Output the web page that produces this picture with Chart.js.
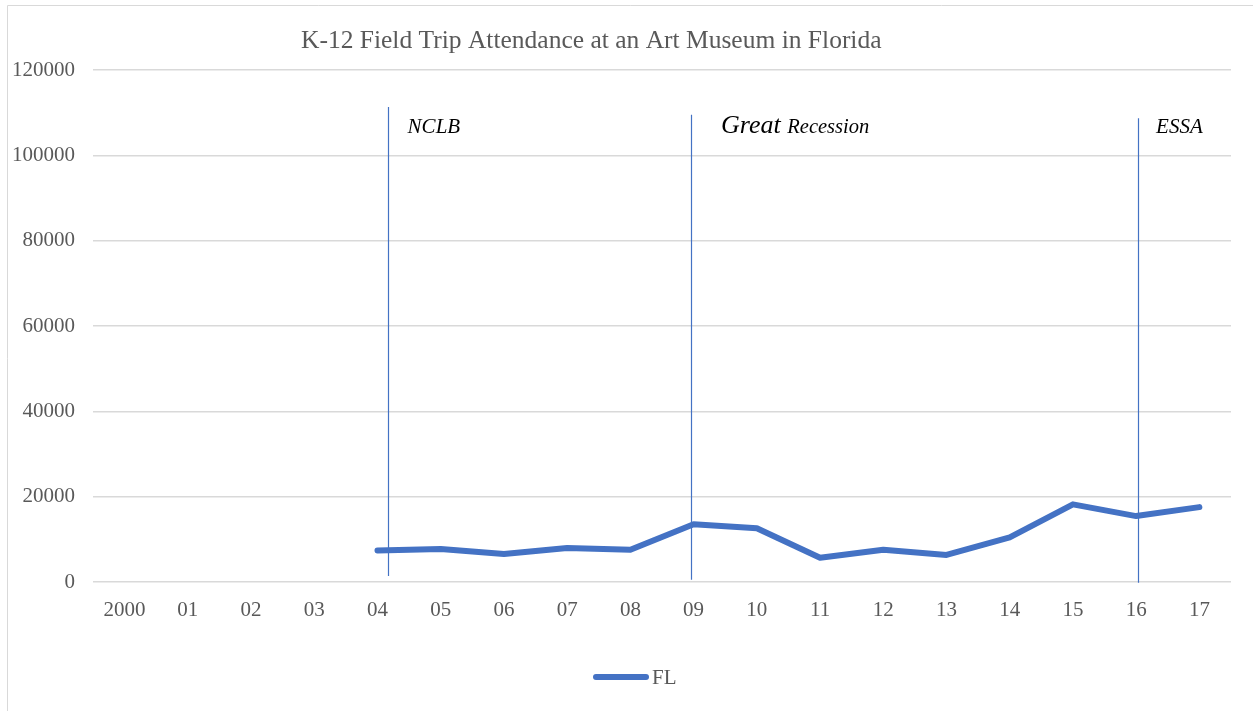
<!DOCTYPE html>
<html>
<head>
<meta charset="utf-8">
<title>K-12 Field Trip Attendance</title>
<script src="https://cdn.jsdelivr.net/npm/chart.js@4.4.0/dist/chart.umd.min.js"></script>
<style>
    html, body { margin: 0; padding: 0; background: #ffffff; }
    #wrap { position: relative; width: 1253px; height: 711px; }
</style>
</head>
<body>
<div id="wrap"><canvas id="chart"></canvas></div>
<script>
// Chart data
const years = ["2000", "01", "02", "03", "04", "05", "06", "07", "08",
               "09", "10", "11", "12", "13", "14", "15", "16", "17"];
const attendanceFL = [null, null, null, null, 7400, 7750, 6550, 7950, 7550,
                      13550, 12600, 5700, 7550, 6350, 10450, 18200, 15450, 17550];
const yTicks = [0, 20000, 40000, 60000, 80000, 100000, 120000];

// Policy events: name, category position, vertical extent of the marker line
const eventNames = ["NCLB", "Great Recession", "ESSA"];
const eventAt = [4.16, 8.96, 16.03];
const eventTop = [111300, 109500, 108700];
const eventBottom = [1400, 500, -200];

const SERIF = "'Liberation Serif', 'Times New Roman', serif";
const GREY = "#595959";
const BLUE = "#4472C4";

// frame around the chart, the off-centre title and the legend
const framePlugin = {
    id: "frame",
    beforeDraw(chart) {
        const ctx = chart.ctx;
        ctx.save();
        ctx.strokeStyle = "#d9d9d9";
        ctx.lineWidth = 1;
        ctx.beginPath();
        ctx.moveTo(7.5, chart.height);
        ctx.lineTo(7.5, 5.5);
        ctx.lineTo(chart.width, 5.5);
        ctx.stroke();
        ctx.fillStyle = GREY;
        ctx.font = "25.5px " + SERIF;
        ctx.textBaseline = "alphabetic";
        ctx.textAlign = "left";
        ctx.fillText("K-12 Field Trip Attendance at an Art Museum in Florida", 301, 48);
        ctx.restore();
    },
    afterDraw(chart) {
        const ctx = chart.ctx;
        const ds = chart.data.datasets[0];
        ctx.save();
        ctx.strokeStyle = ds.borderColor;
        ctx.lineWidth = 6;
        ctx.lineCap = "round";
        ctx.beginPath();
        ctx.moveTo(596, 677);
        ctx.lineTo(646, 677);
        ctx.stroke();
        ctx.fillStyle = GREY;
        ctx.font = "21px " + SERIF;
        ctx.textBaseline = "middle";
        ctx.fillText(ds.label, 652, 678);
        ctx.restore();
    },
};

// vertical marker lines with italic labels
const eventPlugin = {
    id: "events",
    afterDatasetsDraw(chart) {
        const ctx = chart.ctx;
        const x = chart.scales.x;
        const y = chart.scales.y;
        ctx.save();
        ctx.strokeStyle = BLUE;
        ctx.lineWidth = 1.2;
        eventNames.forEach((name, i) => {
            const px = Math.round(x.getPixelForValue(eventAt[i])) + 0.5;
            ctx.beginPath();
            ctx.moveTo(px, y.getPixelForValue(eventTop[i]));
            ctx.lineTo(px, y.getPixelForValue(eventBottom[i]));
            ctx.stroke();
        });
        ctx.fillStyle = "#000000";
        ctx.textBaseline = "alphabetic";
        ctx.textAlign = "left";
        const base = 133;
        const p0 = x.getPixelForValue(eventAt[0]);
        ctx.font = "italic 21px " + SERIF;
        ctx.fillText(eventNames[0], p0 + 20, base);

        const p1 = x.getPixelForValue(eventAt[1]);
        const parts = eventNames[1].split(" ");
        ctx.font = "italic 26px " + SERIF;
        ctx.fillText(parts[0], p1 + 30, base);
        const w = ctx.measureText(parts[0] + " ").width;
        ctx.font = "italic 20.5px " + SERIF;
        ctx.fillText(parts[1], p1 + 30 + w, base);

        const p2 = x.getPixelForValue(eventAt[2]);
        ctx.font = "italic 21px " + SERIF;
        ctx.fillText(eventNames[2], p2 + 18, base);
        ctx.restore();
    },
};

new Chart(document.getElementById("chart"), {
    type: "line",
    data: {
        labels: years,
        datasets: [{
            label: "FL",
            data: attendanceFL,
            borderColor: BLUE,
            backgroundColor: BLUE,
            borderWidth: 6,
            borderCapStyle: "round",
            borderJoinStyle: "round",
            pointRadius: 0,
            pointHoverRadius: 0,
            tension: 0,
            spanGaps: false,
        }],
    },
    options: {
        responsive: true,
        maintainAspectRatio: false,
        animation: false,
        layout: { padding: { top: 70, right: 22, left: 0, bottom: 0 } },
        plugins: {
            title: { display: false },
            tooltip: { enabled: false },
            legend: { display: false },
        },
        scales: {
            x: {
                offset: true,
                grid: { display: false },
                border: { display: false },
                ticks: {
                    color: GREY,
                    font: { family: SERIF, size: 21 },
                    padding: 8,
                    maxRotation: 0,
                    autoSkip: false,
                },
                afterFit(scale) { scale.height = 129; },
            },
            y: {
                min: 0,
                max: 120000,
                afterBuildTicks(scale) { scale.ticks = yTicks.map((v) => ({ value: v })); },
                grid: { color: "#d9d9d9", lineWidth: 1.5, drawTicks: false },
                border: { display: false },
                ticks: {
                    color: GREY,
                    font: { family: SERIF, size: 21 },
                    padding: 18,
                    callback: (v) => String(v),
                },
                afterFit(scale) { scale.width = 93; },
            },
        },
    },
    plugins: [framePlugin, eventPlugin],
});
</script>
</body>
</html>
